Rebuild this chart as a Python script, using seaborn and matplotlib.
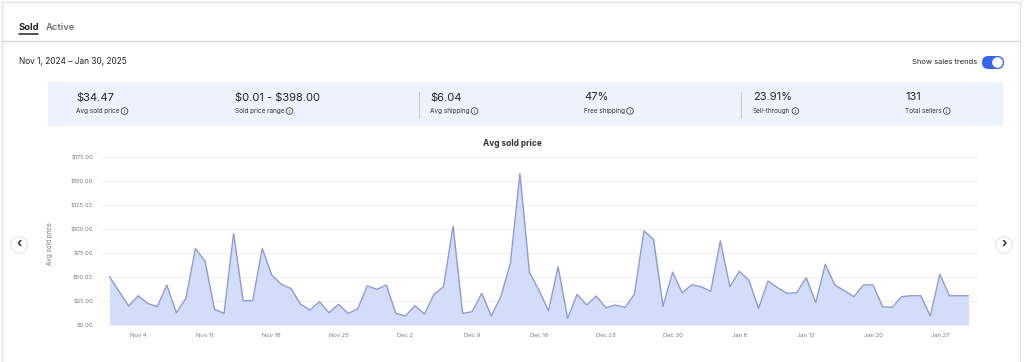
import matplotlib
matplotlib.use('Agg')
import matplotlib.pyplot as plt
from matplotlib.patches import Rectangle, Circle, FancyBboxPatch
import seaborn as sns
import numpy as np
import pandas as pd

# daily avg sold price, Nov 1 2024 - Jan 30 2025
start_date = '2024-11-01'
avg_price = [
    50.3, 35.0, 19.8, 30.5, 22.5, 19.1, 41.6, 12.8, 27.7, 79.7,
    66.6, 16.3, 12.1, 95.3, 25.3, 25.3, 79.7, 52.0, 42.3, 38.1,
    21.8, 15.6, 24.3, 12.8, 21.5, 12.1, 16.6, 40.9, 37.1, 41.6,
    12.1, 9.4, 20.1, 11.4, 31.9, 39.9, 103.0, 12.1, 13.9, 32.9,
    9.4, 29.5, 64.1, 157.7, 54.8, 36.0, 14.8, 60.7, 6.9, 31.9,
    20.8, 30.2, 18.0, 20.8, 18.2, 32.0, 98.1, 89.1, 19.5, 55.0,
    33.6, 41.8, 39.9, 35.0, 87.7, 39.9, 55.8, 46.5, 17.2, 45.8,
    38.9, 33.0, 33.7, 49.3, 23.3, 63.2, 41.7, 35.8, 29.5, 41.7,
    41.7, 19.1, 18.4, 29.5, 30.5, 30.5, 9.4, 52.8, 30.5, 30.5, 30.5,
]
tick_labels = ['Nov 4', 'Nov 11', 'Nov 18', 'Nov 25', 'Dec 2', 'Dec 9', 'Dec 16',
               'Dec 23', 'Dec 30', 'Jan 6', 'Jan 13', 'Jan 20', 'Jan 27']
y_ticks = [0, 25, 50, 75, 100, 125, 150, 175]

stat_values = [r'\$34.47', r'\$0.01 - \$398.00', r'\$6.04', '47%', '23.91%', '131']
stat_labels = ['Avg sold price', 'Sold price range', 'Avg shipping',
               'Free shipping', 'Sell-through', 'Total sellers']
stat_x = [76, 235, 430, 584, 753, 905]

df = pd.DataFrame({'date': pd.date_range(start_date, periods=len(avg_price)),
                   'price': avg_price})

sns.set_theme(style='white')
plt.rcParams['font.family'] = ['Inter', 'DejaVu Sans']

W, H = 1024, 362
fig = plt.figure(figsize=(W / 100, H / 100), dpi=100)

# --- page chrome, drawn in pixel coords ---
bg = fig.add_axes([0, 0, 1, 1])
bg.set_xlim(0, W)
bg.set_ylim(H, 0)
bg.axis('off')

line_c = '#e2e2e2'
bg.plot([2, 1020], [1.5, 1.5], color=line_c, lw=1)
bg.plot([2, 2], [1.5, H], color=line_c, lw=1)
bg.plot([1020, 1020], [1.5, H], color=line_c, lw=1)
bg.plot([2, 1020], [40.5, 40.5], color='#d8d8d8', lw=1)

bg.text(19, 27, 'Sold', fontsize=6.8, fontweight='bold', color='#222', va='center')
bg.plot([19, 37.5], [34, 34], color='#333', lw=1.2)
bg.text(46, 27, 'Active', fontsize=6.8, fontweight='semibold', color='#707070', va='center')

bg.text(19, 62, 'Nov 1, 2024 – Jan 30, 2025', fontsize=6, color='#222', va='center')
bg.text(977, 62, 'Show sales trends', fontsize=5.4, color='#222', va='center', ha='right')
bg.add_patch(FancyBboxPatch((982, 56), 22, 13, boxstyle='round,pad=0,rounding_size=6.5',
                            fc='#3665f3', ec='none'))
bg.add_patch(Circle((997.5, 62.5), 5.3, fc='white', ec='none'))

# stats band
bg.add_patch(Rectangle((48, 82), 955, 44, fc='#edf3fc', ec='none'))
for sx in [419, 741]:
    bg.plot([sx, sx], [92, 118], color='#c9c9c9', lw=0.8)
label_texts = []
for v, lab, sx in zip(stat_values, stat_labels, stat_x):
    bg.text(sx, 97.5, v, fontsize=8, color='#222', va='center')
    label_texts.append(bg.text(sx, 111, lab, fontsize=4.6, color='#333', va='center'))

# info icons right after each label
fig.canvas.draw()
renderer = fig.canvas.get_renderer()
for t in label_texts:
    ix = t.get_window_extent(renderer).x1 + 5
    bg.add_patch(Circle((ix, 111), 3.3, fc='none', ec='#444', lw=0.6))
    bg.text(ix, 111.3, 'i', fontsize=4, color='#444', ha='center', va='center')

# nav buttons
for cx, ch in [(19, '‹'), (1004, '›')]:
    bg.add_patch(Circle((cx, 245), 9, fc='#dddddd', ec='none', alpha=0.6))
    bg.add_patch(Circle((cx, 245), 8, fc='white', ec='#e6e6e6', lw=0.6))
    bg.text(cx, 244, ch, fontsize=9, fontweight='bold', color='#333', ha='center', va='center')

bg.text(512, 143, 'Avg sold price', fontsize=6, fontweight='bold', color='#333', ha='center', va='center')
bg.text(50, 244, 'Avg sold price', fontsize=4.5, color='#777', ha='center', va='center', rotation=90)

# --- chart ---
left, right, top, bottom = 100, 978, 157, 325
ax = fig.add_axes([left / W, (H - bottom) / H, (right - left) / W, (bottom - top) / H])
ax.patch.set_alpha(0)

sns.lineplot(data=df, x='date', y='price', ax=ax, color='#8e9bd3', lw=1.0)
ax.fill_between(df['date'], df['price'], 0, color='#d3ddfa', lw=0)

x0 = df['date'].iloc[0] - pd.Timedelta(days=1)
x1 = df['date'].iloc[-1] + pd.Timedelta(days=1)
ax.set_xlim(x0, x1)
ax.set_ylim(0, 175)

tick_dates = pd.date_range('2024-11-04', periods=len(tick_labels), freq='7D')
ax.set_xticks(tick_dates)
ax.set_xticklabels(tick_labels)
ax.set_yticks(y_ticks)
ax.set_yticklabels([f'${v:.2f}' for v in y_ticks])
ax.tick_params(axis='both', length=0, labelsize=4.2, labelcolor='#7a7a7a')
ax.tick_params(axis='x', pad=6)
ax.tick_params(axis='y', pad=5)
ax.grid(axis='y', color='#eeeeee', lw=0.8)
ax.set_axisbelow(True)
ax.set_xlabel('')
ax.set_ylabel('')
for s in ax.spines.values():
    s.set_visible(False)

fig.savefig('out.png', dpi=100)
